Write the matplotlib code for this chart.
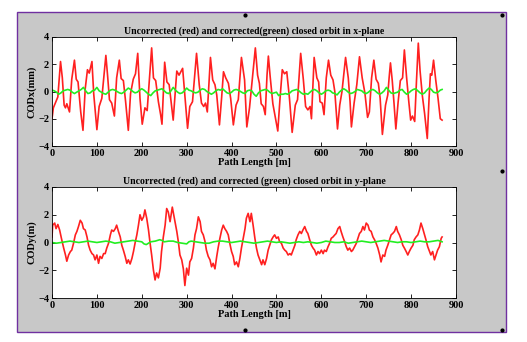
import matplotlib
matplotlib.use("Agg")
import matplotlib.pyplot as plt
from matplotlib.patches import Rectangle
from matplotlib.lines import Line2D

plt.rcParams['font.family'] = ['Liberation Serif', 'DejaVu Serif']
plt.rcParams['font.weight'] = 'bold'

# ---------------- data ----------------
red_x_s = [0, 3, 8, 13, 19, 23, 27, 30, 33, 39, 44, 50, 54, 58, 64, 69, 74, 79, 83, 89,
           93, 100, 105, 111, 120, 124, 128, 133, 139, 144, 150, 154, 159, 164, 170, 175, 181, 186, 191, 196,
           201, 207, 212, 222, 226, 231, 237, 242, 245, 251, 256, 261, 270, 278, 283, 291, 296, 302, 307, 313,
           322, 328, 333, 338, 342, 346, 353, 358, 363, 367, 373, 378, 382, 387, 393, 398, 404, 410, 415, 422,
           429, 434, 440, 446, 453, 458, 462, 466, 471, 475, 479, 482, 486, 492, 503, 508, 513, 518, 523, 529,
           535, 542, 547, 554, 560, 565, 570, 575, 578, 584, 590, 594, 597, 602, 606, 611, 616, 621, 626, 630,
           636, 641, 646, 654, 660, 664, 667, 673, 679, 685, 691, 697, 703, 707, 712, 717, 722, 727, 731, 736,
           743, 748, 751, 754, 758, 762, 766, 771, 776, 781, 785, 790, 795, 799, 803, 808, 812, 816, 820, 825,
           830, 836, 840, 843, 846, 850, 855, 860, 865, 869]
red_x_v = [-2.0, -1.2, -0.8, -0.4, 2.2, 1.0, -1.0, -1.2, -0.9, -1.5, 0.9, 2.3, 0.9, 0.7, -1.5, -2.85, 0.2, 1.6, 1.35, 2.2,
           -0.2, -2.8, -1.1, -0.5, 2.65, 1.1, -0.6, -0.85, -1.8, 1.0, 2.3, 0.95, 0.8, -0.75, -2.85, -0.15, 0.9, 1.3, 2.8, -0.5,
           -2.4, -1.2, -1.4, 3.2, 1.0, 0.8, -0.75, -1.7, -2.4, 2.15, 0.7, 0.5, -2.1, 1.5, 1.2, 1.7, -0.3, -2.7, -1.1, -0.75,
           2.8, 0.5, -0.85, -1.1, -0.85, -1.5, 2.5, 0.85, 0.5, -0.25, -2.45, -0.4, 1.45, 1.0, 0.6, -0.5, -2.45, -1.0, -0.6, 2.5,
           0.85, -2.6, -1.2, 0.8, 3.2, 1.2, 0.6, -0.9, -1.1, -1.7, 1.2, 2.6, 1.1, -0.9, -2.9, -0.5, 1.6, 1.3, 1.45, -0.5,
           -3.0, -1.0, -0.6, 2.8, 0.85, -1.1, -1.35, -1.1, -2.0, 2.5, 1.0, 0.7, -0.75, -0.85, -1.7, 1.0, 2.3, 1.2, 0.85, 0.0,
           -2.75, -1.0, 0.0, 2.5, 1.0, -0.75, -2.6, -0.85, 0.5, 2.55, 1.0, -0.1, -1.9, -1.5, 1.0, 2.3, 0.9, 0.6, -0.5, -3.15,
           -1.0, -0.25, 1.0, 2.1, 0.8, -0.9, -2.75, -0.8, 0.8, 1.0, 3.05, 1.0, -0.8, -2.1, -1.8, -2.2, 0.8, 3.55, 1.5, -0.3,
           -1.6, -3.45, -0.5, 1.3, 1.2, 2.3, 0.8, -0.5, -2.0, -2.1]

green_x_s = list(range(0, 870, 5)) + [869]
green_x_v = [0.1, 0.05, -0.05, -0.2, -0.1, 0.05, 0.1, 0.15, 0.1, -0.05, -0.15, -0.05, 0.05, 0.15, 0.3, 0.05, -0.15, -0.1, 0.05, 0.1,
             0.3, 0.05, -0.05, -0.15, -0.2, -0.05, 0.1, 0.15, 0.1, 0.0, -0.1, -0.15, -0.05, 0.1, 0.25, 0.15, 0.0, -0.1, -0.05, 0.1,
             0.2, 0.1, -0.05, -0.2, -0.3, -0.1, 0.05, 0.1, 0.15, 0.2, 0.05, -0.1, -0.15, 0.05, 0.3, 0.1, -0.05, -0.15, -0.1, 0.05,
             0.25, 0.1, 0.05, -0.05, -0.1, -0.05, 0.1, 0.2, 0.15, 0.0, -0.1, -0.2, -0.1, 0.05, 0.15, 0.1, 0.2, 0.05, -0.1, -0.15,
             -0.05, 0.1, 0.15, 0.1, 0.0, -0.1, -0.15, 0.05, 0.1, 0.05, -0.2, -0.35, -0.1, 0.05, 0.1, 0.15, 0.1, -0.05, -0.15, -0.1,
             -0.05, -0.3, -0.2, -0.2, -0.15, -0.2, -0.1, 0.05, 0.1, 0.15, 0.05, -0.1, -0.2, -0.15, -0.2, -0.05, 0.1, 0.15, 0.05, -0.1,
             -0.2, -0.1, 0.05, 0.1, 0.05, -0.1, -0.15, -0.25, -0.05, 0.1, 0.2, 0.1, -0.05, -0.15, -0.1, 0.0, 0.15, 0.1, 0.05, -0.1,
             -0.15, -0.05, 0.1, 0.15, 0.05, -0.1, -0.2, -0.1, 0.05, 0.3, 0.1, -0.1, -0.15, -0.1, -0.05, 0.1, 0.15, -0.05, -0.2, -0.1,
             0.05, 0.15, 0.2, 0.05, -0.1, -0.2, -0.1, 0.1, 0.25, 0.15, -0.05, -0.1, -0.05, 0.1, 0.15]

red_y_s = [0, 1.5, 6, 9, 13, 17, 21, 26, 30, 33, 37, 41, 44, 48, 52, 55.5, 59, 63, 67, 70,
           74, 78, 81.5, 85, 89, 92.6, 96, 100, 103.7, 107, 111, 115, 118.5, 122, 126, 130, 133, 137, 141, 144,
           148, 152, 155.5, 159, 163, 166.7, 170, 174, 178, 181.5, 185, 189, 192.6, 196, 200, 204, 207, 211, 215, 218.5,
           222, 226, 229.6, 233, 237, 241, 244, 248, 252, 255.5, 259, 263, 268, 272.6, 278, 281.5, 285, 289, 292.6, 296,
           300, 304, 307, 311, 315, 318.5, 322, 326, 330, 333, 337, 341, 344, 348, 352, 355.5, 359, 363, 367, 370,
           374, 378, 381.5, 385, 389, 392.6, 396, 400, 403.7, 407, 411, 415, 418.5, 422, 426, 430, 433, 437, 441, 444,
           448, 452, 455.5, 459, 463, 467, 470, 474, 478, 481.5, 485, 489, 492.6, 496, 500, 504, 507, 511, 515, 518.5,
           522, 526, 530, 533, 537, 541, 544, 548, 552, 555.5, 559, 563, 567, 570, 574, 578, 581.5, 585, 589, 592.6,
           596, 600, 604, 607, 611, 615, 618.5, 622, 626, 630, 633, 637, 641, 644, 648, 652, 655.5, 659, 663, 667,
           670, 674, 678, 681.5, 685, 689, 692.6, 696, 700, 704, 707, 711, 715, 718.5, 722, 726, 730, 733, 737, 741,
           744, 748, 752, 755.5, 759, 763, 767, 770, 774, 778, 781.5, 785, 789, 792.6, 796, 800, 804, 807, 811, 815,
           818.5, 822, 826, 830, 833, 837, 841, 844, 848, 852, 855.5, 859, 863, 867, 869]
red_y_v = [0.4, 1.25, 1.4, 1.0, 1.3, 0.9, 0.3, -0.4, -0.9, -1.35, -0.9, -0.65, -0.55, -0.05, 0.55, 0.8, 1.15, 1.6, 1.4, 1.0,
           0.9, 0.4, -0.2, -0.55, -0.8, -0.9, -1.25, -0.9, -1.5, -1.0, -1.15, -0.8, -0.8, -0.4, -0.05, 0.55, 0.9, 0.8, 1.0, 1.25,
           0.8, 0.4, -0.2, -0.55, -1.0, -1.5, -1.25, -1.55, -1.15, -0.65, -0.05, 0.55, 1.25, 2.0, 1.6, 1.85, 2.35, 1.75, 0.9, -0.05,
           -0.9, -2.0, -2.7, -2.2, -2.55, -1.85, -0.65, 0.4, 1.25, 2.45, 2.2, 1.5, 2.55, 1.75, 0.8, 0.05, -0.9, -1.25, -1.9, -3.1,
           -1.85, -2.35, -1.4, -1.15, -0.4, 0.55, 1.0, 1.85, 1.5, 0.8, 0.55, 0.05, -0.55, -1.0, -1.25, -1.75, -1.5, -1.9, -1.0, -0.4,
           0.3, 0.9, 1.25, 1.0, 0.8, 0.55, -0.05, -0.65, -1.0, -1.6, -1.4, -1.75, -1.15, -0.4, 0.3, 1.0, 1.75, 2.1, 1.5, 2.1,
           1.25, 0.3, -0.4, -0.9, -1.25, -1.6, -1.25, -1.6, -1.15, -0.55, -0.2, 0.2, 0.4, 0.55, 0.3, 0.4, 0.05, -0.05, -0.4, -0.55,
           -0.65, -0.9, -0.8, -0.9, -0.55, -0.2, 0.2, 0.55, 0.8, 0.65, 0.9, 1.15, 0.8, 0.65, 0.2, -0.2, -0.4, -0.55, -0.9, -0.65,
           -0.8, -0.55, -0.8, -0.55, -0.65, -0.3, -0.05, 0.3, 0.4, 0.55, 0.65, 1.0, 1.15, 0.8, 0.4, 0.05, -0.3, -0.55, -0.4, -0.65,
           -0.55, -0.3, -0.05, 0.3, 0.65, 0.8, 1.15, 0.9, 1.4, 1.25, 0.9, 0.8, 0.4, 0.2, -0.05, -0.4, -0.9, -1.4, -0.9, -1.0,
           -0.55, -0.2, 0.2, 0.55, 0.65, 0.8, 1.15, 0.8, 0.55, 0.2, -0.2, -0.4, -0.65, -0.9, -0.65, -0.4, -0.2, 0.2, 0.4, 0.55,
           0.9, 1.4, 1.0, 0.55, 0.2, -0.3, -0.65, -0.9, -0.65, -1.25, -0.9, -0.55, -0.3, 0.3, 0.4]

green_y_s = [0, 10, 20, 30, 40, 50, 60, 70, 80, 90, 100, 110, 120, 130, 140, 150, 160, 170, 180, 190,
             200, 205, 210, 220, 230, 240, 245, 250, 260, 270, 280, 290, 300, 305, 310, 320, 330, 340, 350, 360,
             370, 380, 390, 400, 410, 420, 430, 440, 450, 460, 470, 480, 490, 500, 510, 520, 530, 540, 550, 560,
             570, 580, 590, 600, 610, 620, 630, 640, 650, 660, 670, 680, 690, 700, 710, 720, 730, 740, 750, 760,
             770, 780, 790, 800, 810, 820, 830, 840, 850, 860, 869]
green_y_v = [0.0, -0.05, 0.0, 0.05, 0.1, 0.05, 0.0, 0.05, 0.1, 0.05, 0.0, 0.05, 0.1, 0.05, -0.05, 0.0, 0.05, 0.1, 0.15, 0.1,
             0.05, -0.1, -0.15, 0.05, 0.1, 0.2, 0.15, 0.05, 0.1, 0.1, 0.0, -0.05, -0.1, 0.05, 0.1, 0.05, 0.0, -0.05, -0.05, 0.05,
             0.1, 0.1, 0.05, 0.0, 0.05, 0.1, 0.05, 0.0, -0.05, 0.0, 0.05, 0.1, 0.05, 0.0, 0.05, 0.0, -0.05, 0.0, 0.05, 0.0,
             0.05, 0.0, -0.05, 0.0, 0.1, 0.05, 0.0, 0.0, 0.05, -0.05, 0.0, 0.05, 0.1, 0.05, 0.0, 0.05, 0.1, 0.15, 0.1, 0.05,
             0.0, 0.05, 0.05, 0.0, 0.05, 0.1, 0.05, 0.05, 0.1, 0.15, 0.05]

x_ticks = [0, 100, 200, 300, 400, 500, 600, 700, 800, 900]
y_ticks = [-4, -2, 0, 2, 4]
title_x = "Uncorrected (red) and corrected(green) closed orbit in x-plane"
title_y = "Uncorrected (red) and corrected (green) closed orbit in y-plane"
ylabel_x = "CODx(mm)"
ylabel_y = "CODy(m)"
xlabel = "Path Length [m]"

# ---------------- figure ----------------
W, H = 527, 342
fig = plt.figure(figsize=(W / 100, H / 100), dpi=100)
fig.patch.set_facecolor('white')

# gray panel with purple border
fig.add_artist(Rectangle((17 / W, 1 - 332 / H), (506 - 17) / W, (332 - 12) / H,
                         transform=fig.transFigure, facecolor='#c8c8c8',
                         edgecolor='#7030a0', linewidth=1.0, zorder=0))

# selection handles
for px, py in [(245, 15), (502, 15), (502, 171), (245, 330), (502, 330)]:
    fig.add_artist(Line2D([px / W], [1 - py / H], marker='o', markersize=2,
                          color='black', transform=fig.transFigure))

red = '#ff2020'
green = '#22ee22'
fs = 7.5


def style(ax, title, ylabel):
    ax.set_facecolor('white')
    ax.set_xlim(0, 900)
    ax.set_ylim(-4, 4)
    ax.set_xticks(x_ticks)
    ax.set_yticks(y_ticks)
    ax.tick_params(direction='in', length=3, width=0.6, top=True, right=True,
                   labelsize=fs, pad=2)
    for lab in ax.get_xticklabels() + ax.get_yticklabels():
        lab.set_fontweight('bold')
    for sp in ax.spines.values():
        sp.set_linewidth(0.6)
    ax.set_title(title, fontsize=7, fontweight='bold', pad=2)
    ax.set_ylabel(ylabel, fontsize=fs, fontweight='bold', labelpad=1)
    ax.set_xlabel(xlabel, fontsize=fs, fontweight='bold', labelpad=0)


ax1 = fig.add_axes([52 / W, 1 - 146 / H, (456 - 52) / W, (146 - 37) / H])
ax1.plot(red_x_s, red_x_v, color=red, lw=1.2)
ax1.plot(green_x_s, green_x_v, color=green, lw=1.2)
style(ax1, title_x, ylabel_x)

ax2 = fig.add_axes([52 / W, 1 - 298 / H, (456 - 52) / W, (298 - 187) / H])
ax2.plot(red_y_s, red_y_v, color=red, lw=1.2)
ax2.plot(green_y_s, green_y_v, color=green, lw=1.2)
style(ax2, title_y, ylabel_y)

fig.savefig('out.png', dpi=100)
